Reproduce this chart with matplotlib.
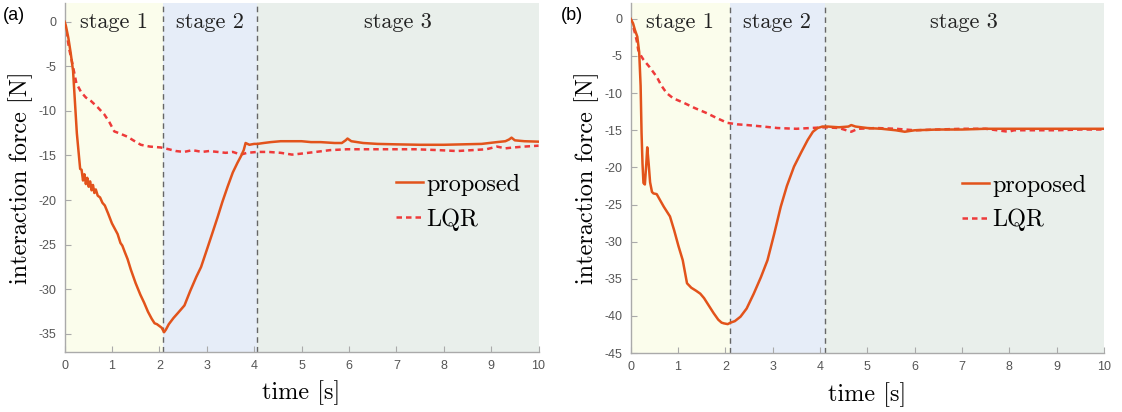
import matplotlib
matplotlib.use("Agg")
import matplotlib.pyplot as plt

# ---------------- data ----------------
stage_labels = ["stage 1", "stage 2", "stage 3"]
legend_labels = ["proposed", "LQR"]
xticks = [0, 1, 2, 3, 4, 5, 6, 7, 8, 9, 10]
yticks_a = [0, -5, -10, -15, -20, -25, -30, -35]
yticks_b = [0, -5, -10, -15, -20, -25, -30, -35, -40, -45]
stage_bounds_a = [2.07, 4.07]
stage_bounds_b = [2.09, 4.10]

t_prop_a = [0, 0.03, 0.08, 0.13, 0.18, 0.22, 0.26, 0.30, 0.33, 0.36, 0.39, 0.42, 0.45, 0.48, 0.51,
            0.54, 0.57, 0.60, 0.63, 0.66, 0.70, 0.75, 0.80, 0.85, 0.92, 1.00, 1.06, 1.12, 1.18, 1.22,
            1.27, 1.33, 1.40, 1.50, 1.60, 1.68, 1.76, 1.84, 1.90, 1.95, 2.00, 2.05, 2.10, 2.14, 2.20,
            2.30, 2.40, 2.53, 2.65, 2.78, 2.88, 3.00, 3.10, 3.23, 3.33, 3.44, 3.55, 3.65, 3.72, 3.78,
            3.82, 3.90, 4.00, 4.07, 4.20, 4.35, 4.56, 4.80, 5.00, 5.20, 5.40, 5.70, 5.85, 5.93, 5.97,
            6.05, 6.30, 6.60, 7.00, 7.50, 8.00, 8.40, 8.80, 9.12, 9.30, 9.38, 9.43, 9.50, 9.70, 10.0]
f_prop_a = [0, -0.5, -1.8, -3.5, -5.5, -9.0, -12.5, -14.8, -16.5, -16.6, -17.8, -17.1, -18.2, -17.5, -18.5,
            -17.9, -18.9, -18.3, -19.2, -18.8, -19.5, -19.7, -20.3, -20.6, -21.5, -22.6, -23.2, -23.8, -24.8, -25.1,
            -25.8, -26.6, -27.8, -29.3, -30.6, -31.5, -32.5, -33.3, -33.8, -33.9, -34.1, -34.3, -34.8, -34.5, -33.9,
            -33.2, -32.6, -31.8, -30.2, -28.6, -27.5, -25.6, -24.0, -21.9, -20.2, -18.5, -16.9, -15.8, -15.1, -14.4,
            -13.6, -13.8, -13.7, -13.7, -13.6, -13.5, -13.4, -13.4, -13.4, -13.5, -13.5, -13.6, -13.6, -13.3, -13.1,
            -13.4, -13.6, -13.7, -13.75, -13.8, -13.8, -13.75, -13.7, -13.5, -13.4, -13.2, -13.0, -13.3, -13.4, -13.45]

t_lqr_a = [0, 0.05, 0.10, 0.17, 0.25, 0.35, 0.45, 0.56, 0.70, 0.84, 0.95, 1.05, 1.15, 1.33, 1.45, 1.61,
           1.80, 2.03, 2.20, 2.35, 2.52, 2.70, 2.90, 3.05, 3.23, 3.40, 3.55, 3.72, 3.85, 4.07, 4.30, 4.56,
           4.80, 4.98, 5.30, 5.60, 5.96, 6.40, 6.90, 7.40, 7.90, 8.28, 8.60, 8.90, 9.12, 9.30, 9.47, 9.70, 10.0]
f_lqr_a = [0, -1.5, -3.1, -4.8, -6.9, -7.9, -8.5, -8.9, -9.6, -10.4, -11.3, -12.3, -12.5, -12.9, -13.3, -13.8,
           -14.0, -14.1, -14.3, -14.5, -14.6, -14.4, -14.6, -14.5, -14.6, -14.7, -14.6, -14.9, -14.7, -14.6, -14.6, -14.7,
           -14.9, -14.8, -14.6, -14.4, -14.3, -14.3, -14.3, -14.3, -14.4, -14.5, -14.4, -14.3, -14.0, -14.2, -14.1, -14.0, -13.9]

t_prop_b = [0, 0.05, 0.09, 0.14, 0.18, 0.21, 0.23, 0.25, 0.27, 0.30, 0.33, 0.35, 0.38, 0.41, 0.45, 0.48,
            0.55, 0.62, 0.70, 0.77, 0.83, 0.92, 1.01, 1.10, 1.19, 1.28, 1.38, 1.47, 1.55, 1.65, 1.75, 1.85,
            1.92, 1.97, 2.05, 2.11, 2.20, 2.32, 2.45, 2.60, 2.75, 2.89, 3.03, 3.17, 3.30, 3.45, 3.60, 3.74,
            3.85, 3.95, 4.05, 4.16, 4.40, 4.60, 4.66, 4.75, 5.00, 5.30, 5.60, 5.79, 6.00, 6.50, 7.00, 7.50,
            8.00, 8.50, 9.00, 9.50, 10.0]
f_prop_b = [0, -0.6, -1.5, -2.4, -4.5, -9.0, -15.4, -19.5, -22.1, -22.3, -19.5, -17.3, -19.5, -22.0, -23.3, -23.5,
            -23.6, -24.4, -25.3, -26.0, -26.6, -28.5, -30.6, -32.5, -35.6, -36.2, -36.6, -37.0, -37.6, -38.6, -39.6, -40.5,
            -40.9, -41.0, -41.1, -40.9, -40.7, -40.1, -39.0, -37.0, -34.8, -32.5, -29.0, -25.3, -22.5, -19.9, -18.0, -16.3,
            -15.2, -14.7, -14.5, -14.5, -14.6, -14.5, -14.3, -14.5, -14.7, -14.8, -15.0, -15.2, -15.0, -14.9, -14.9, -14.8,
            -14.8, -14.8, -14.8, -14.8, -14.8]

t_lqr_b = [0, 0.05, 0.09, 0.13, 0.16, 0.22, 0.27, 0.40, 0.55, 0.65, 0.76, 0.90, 1.12, 1.35, 1.61, 1.80,
           2.04, 2.25, 2.46, 2.80, 3.10, 3.50, 3.80, 4.10, 4.40, 4.66, 4.80, 5.20, 5.60, 6.00, 6.50, 7.00,
           7.50, 7.98, 8.10, 8.50, 9.00, 9.50, 10.0]
f_lqr_b = [0, -1.0, -1.9, -3.0, -4.2, -5.0, -5.5, -6.5, -7.8, -9.0, -10.0, -10.7, -11.3, -12.0, -12.7, -13.3,
           -14.0, -14.2, -14.3, -14.5, -14.7, -14.8, -14.7, -14.6, -14.7, -15.2, -14.8, -14.7, -14.8, -15.0, -14.9, -14.8,
           -14.8, -15.2, -15.0, -15.0, -15.0, -14.9, -14.9]

# ---------------- style ----------------
C_PROP = "#e2531b"
C_LQR = "#ee3a3a"
BG = ["#fbfdec", "#e6edf8", "#e9efeb"]
SERIF = "cmr10"

fig = plt.figure(figsize=(11.22, 4.12), dpi=100)
ax_a = fig.add_axes([0.0575, 0.146, 0.4225, 0.847])
ax_b = fig.add_axes([0.5621, 0.143, 0.4219, 0.850])


def draw(ax, tp, fp, tl, fl, bounds, ylim, yticks, panel, px):
    edges = [0] + bounds + [10]
    for i in range(3):
        ax.axvspan(edges[i], edges[i + 1], color=BG[i], lw=0, zorder=0)
        ax.text((edges[i] + edges[i + 1]) / 2, 0.945, stage_labels[i],
                transform=ax.get_xaxis_transform(), ha="center", va="center",
                fontsize=16, family=SERIF, color="#222222")
    for b in bounds:
        ax.axvline(b, color="#666666", lw=1.0, ls=(0, (4, 3)), zorder=1)
    ax.plot(tp, fp, color=C_PROP, lw=1.8, label=legend_labels[0], zorder=3)
    ax.plot(tl, fl, color=C_LQR, lw=1.8, ls=(0, (2.2, 1.6)), label=legend_labels[1], zorder=2)
    ax.set_xlim(0, 10)
    ax.set_ylim(*ylim)
    ax.set_xticks(xticks)
    ax.set_yticks(yticks)
    ax.set_xticklabels([str(x) for x in xticks])
    ax.set_yticklabels([str(y) for y in yticks])
    for s in ["top", "right"]:
        ax.spines[s].set_visible(False)
    for s in ["left", "bottom"]:
        ax.spines[s].set_color("#aaaaaa")
        ax.spines[s].set_linewidth(1.0)
    ax.tick_params(direction="in", length=4, color="#aaaaaa", labelcolor="#555555",
                   labelsize=9, pad=6)
    for lab in ax.get_xticklabels() + ax.get_yticklabels():
        lab.set_family("Liberation Sans")
    ax.set_xlabel("time [s]", family=SERIF, fontsize=17.5, labelpad=6)
    ax.set_ylabel("interaction force [N]", family=SERIF, fontsize=17.5, labelpad=4)
    ax.legend(loc="upper left", bbox_to_anchor=(0.70, 0.51), frameon=False,
              prop={"family": SERIF, "size": 17.5}, handlelength=1.1,
              handletextpad=0.15, labelspacing=0.5, borderpad=0, borderaxespad=0)
    fig.text(px, 0.962, panel, fontsize=13, family="Liberation Sans", ha="left", va="center")


draw(ax_a, t_prop_a, f_prop_a, t_lqr_a, f_lqr_a, stage_bounds_a, (-37.0, 2.1), yticks_a, "(a)", 0.003)
draw(ax_b, t_prop_b, f_prop_b, t_lqr_b, f_lqr_b, stage_bounds_b, (-45.0, 2.15), yticks_b, "(b)", 0.500)

fig.savefig("out.png", dpi=100)
